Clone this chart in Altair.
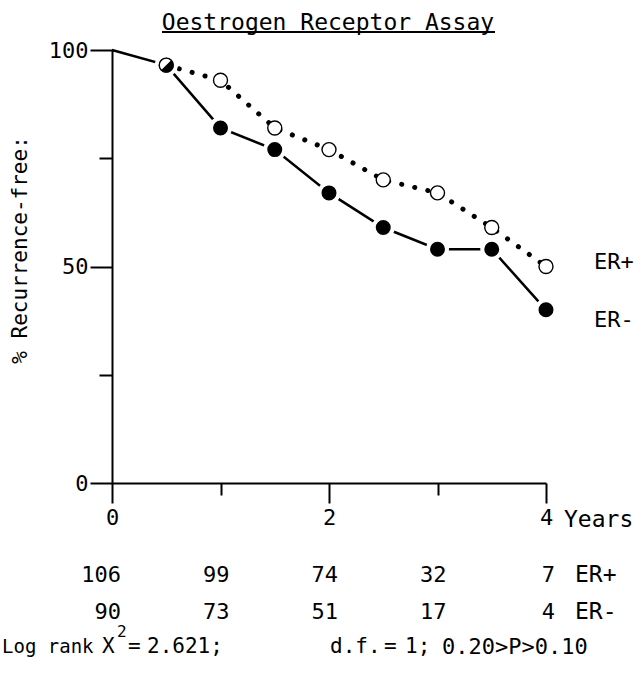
import altair as alt
import pandas as pd

# ---- data ----
years = [0, 0.5, 1, 1.5, 2, 2.5, 3, 3.5, 4]
er_pos = [100, 96.5, 93, 82, 77, 70, 67, 59, 50]
er_neg = [100, 96.5, 82, 77, 67, 59, 54, 54, 40]

risk_years = [0, 1, 2, 3, 4]
risk_pos = [106, 99, 74, 32, 7]
risk_neg = [90, 73, 51, 17, 4]

x_ticks = [0, 1, 2, 3, 4]
y_ticks = [0, 25, 50, 75, 100]

FONT = "DejaVu Sans Mono"

df = pd.DataFrame(
    {"year": years * 2, "value": er_pos + er_neg, "group": ["ER+"] * len(years) + ["ER-"] * len(years)}
)
shared = pd.DataFrame(
    [{"year": y, "value": p} for y, p, n in zip(years, er_pos, er_neg) if p == n and y > 0]
)
risk = pd.DataFrame(
    {"year": risk_years * 2, "n": [str(v) for v in risk_pos + risk_neg],
     "row": ["ER+"] * len(risk_years) + ["ER-"] * len(risk_years)}
)
dummy = pd.DataFrame({"a": [0]})

xaxis = alt.Axis(
    values=x_ticks, grid=False, title=None, labelFlush=False,
    labelExpr="datum.value % 2 === 0 ? datum.label : ''",
    tickSize={"condition": {"test": "datum.value % 2 === 0", "value": 20}, "value": 12},
    labelFont=FONT, labelFontSize=22, labelColor="black", labelPadding=4,
    domainColor="black", domainWidth=2, tickColor="black", tickWidth=2,
)
yaxis = alt.Axis(
    values=y_ticks, grid=False, title=None, labelFlush=False,
    labelExpr="datum.value % 50 === 0 ? datum.label : ''",
    tickSize={"condition": {"test": "datum.value % 50 === 0", "value": 22}, "value": 13},
    labelFont=FONT, labelFontSize=22, labelColor="black", labelPadding=2,
    domainColor="black", domainWidth=2, tickColor="black", tickWidth=2,
)
X = alt.X("year:Q", scale=alt.Scale(domain=[0, 4], nice=False, zero=False), axis=xaxis)
Y = alt.Y("value:Q", scale=alt.Scale(domain=[0, 100], nice=False), axis=yaxis)

base = alt.Chart(df)

solid = base.mark_line(strokeWidth=2.5, color="black").encode(x=X, y=Y).transform_filter(
    "datum.group === 'ER-'")
dotted = base.mark_line(strokeWidth=5, color="black", strokeDash=[0.1, 13.3], strokeCap="round").encode(
    x=X, y=Y).transform_filter("datum.group === 'ER+' && datum.year >= 0.5")
filled_pts = base.mark_point(shape="circle", filled=True, fill="black", stroke="white", strokeWidth=4,
                             size=361, opacity=1).encode(x=X, y=Y).transform_filter(
    "datum.group === 'ER-' && datum.year > 0")
open_pts = base.mark_point(shape="circle", filled=True, fill="white", stroke="black", strokeWidth=1.4,
                           size=196, opacity=1).encode(x=X, y=Y).transform_filter(
    "datum.group === 'ER+' && datum.year > 0")
half = alt.Chart(shared).mark_point(
    shape="M-0.707,0.707 A1,1 0 0,0 0.707,-0.707 Z", filled=True, fill="black", strokeWidth=0,
    size=196, opacity=1).encode(x=X, y=Y)

risk_base = alt.Chart(risk).mark_text(font=FONT, fontSize=22, align="right", baseline="middle",
                                      color="black", dx=9)
risk_pos_text = risk_base.encode(x=X, y=alt.value(525), text="n:N").transform_filter("datum.row === 'ER+'")
risk_neg_text = risk_base.encode(x=X, y=alt.value(562), text="n:N").transform_filter("datum.row === 'ER-'")


def label(txt, x, y, size=22, align="left", angle=None):
    kw = dict(text=txt, font=FONT, fontSize=size, align=align, baseline="middle", color="black")
    if angle is not None:
        kw["angle"] = angle
    return alt.Chart(dummy).mark_text(**kw).encode(x=alt.value(x), y=alt.value(y))


# annotation positions are relative to the plot origin (112, 50)
title = label("Oestrogen Receptor Assay", 216, -27, size=23, align="center")
underline = alt.Chart(dummy).mark_rule(color="black", strokeWidth=2).encode(
    x=alt.value(50), x2=alt.value(383), y=alt.value(-18))
ytitle = label("% Recurrence-free:", -91, 200, size=21, align="center", angle=270)
years_lbl = label("Years", 452, 470, size=23)
erp = label("ER+", 482, 212, size=22)
ern = label("ER-", 482, 270, size=22)
rp = label("ER+", 463, 525, size=23)
rn = label("ER-", 463, 562, size=23)
lr = [
    label("Log rank", -110, 597, size=19),
    label("X", -10, 597, size=21),
    label("2", 5, 582, size=16),
    label("=", 16, 597, size=21),
    label("2.621;", 35, 597, size=21),
    label("d.f.", 218, 597, size=21),
    label("=", 272, 597, size=21),
    label("1;", 293, 597, size=21),
    label("0.20>P>0.10", 330, 597, size=22),
]

chart = alt.layer(
    solid, dotted, filled_pts, open_pts, half, risk_pos_text, risk_neg_text,
    title, underline, ytitle, years_lbl, erp, ern, rp, rn, *lr,
).properties(
    width=434, height=433,
    autosize=alt.AutoSizeParams(type="none"),
    padding={"left": 112, "top": 50, "right": 97, "bottom": 190},
    background="white",
).configure_view(stroke=None)

chart.save("out.html", embed_options={"renderer": "svg", "actions": False})
